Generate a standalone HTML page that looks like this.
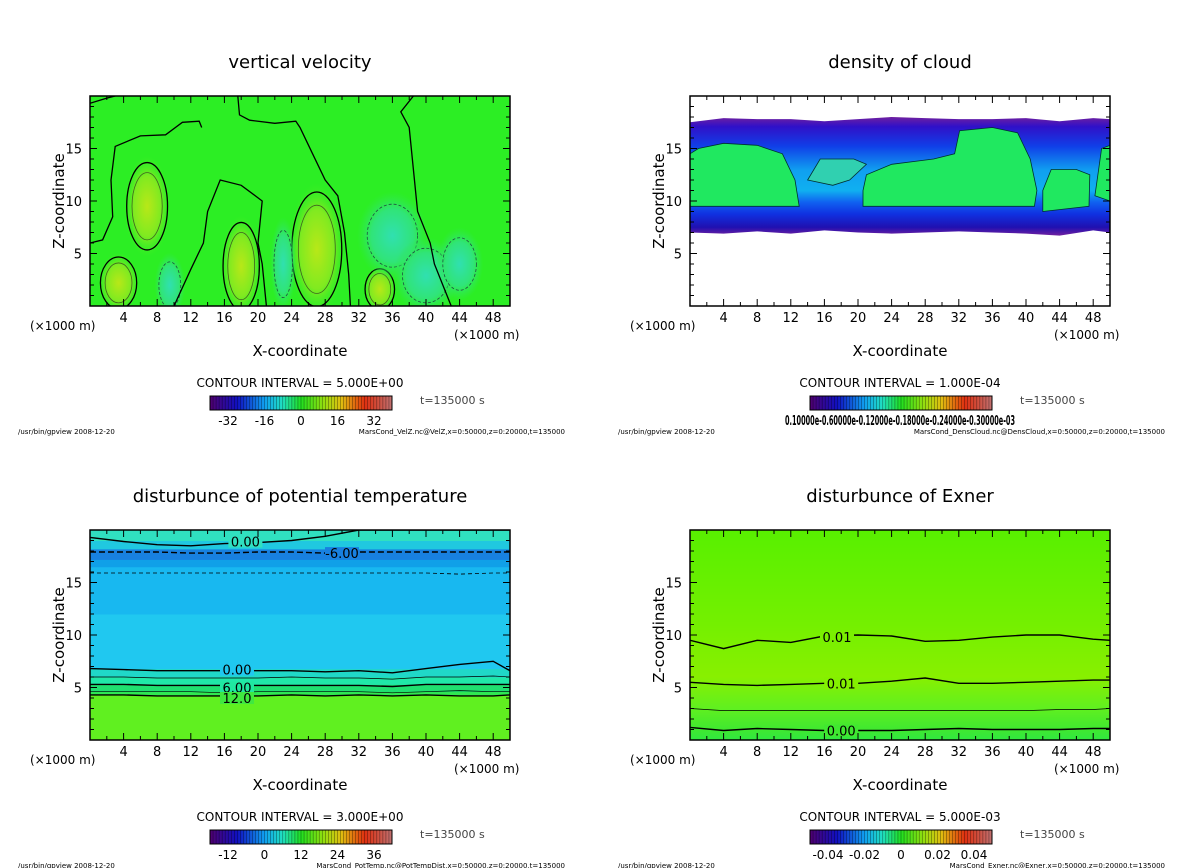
<!DOCTYPE html>
<html><head><meta charset="utf-8"><style>
html,body{margin:0;padding:0;background:#fff}
svg{display:block;font-family:"DejaVu Sans","Liberation Sans",sans-serif}
</style></head><body>
<svg id="fig" width="1200" height="868" viewBox="0 0 1200 868" xmlns="http://www.w3.org/2000/svg">
<defs>
<linearGradient id="cbar" x1="0" x2="1" y1="0" y2="0">
<stop offset="0" stop-color="#500070"/><stop offset="0.15" stop-color="#1010c0"/><stop offset="0.3" stop-color="#10a0f0"/><stop offset="0.4" stop-color="#20e0c0"/><stop offset="0.5" stop-color="#20e020"/><stop offset="0.62" stop-color="#90e010"/><stop offset="0.72" stop-color="#e0c010"/><stop offset="0.85" stop-color="#e03010"/><stop offset="1" stop-color="#c07070"/>
</linearGradient>
<linearGradient id="cloudband" x1="0" x2="0" y1="0" y2="1">
<stop offset="0" stop-color="#7020a0"/><stop offset="0.08" stop-color="#3010c8"/><stop offset="0.25" stop-color="#1040e8"/><stop offset="0.45" stop-color="#10a0f0"/><stop offset="0.62" stop-color="#10b0f0"/><stop offset="0.72" stop-color="#1060f0"/><stop offset="0.82" stop-color="#1030e0"/><stop offset="0.93" stop-color="#2010b0"/><stop offset="1" stop-color="#7020a0"/>
</linearGradient>
<linearGradient id="exner" x1="0" x2="0" y1="0" y2="1">
<stop offset="0" stop-color="#58f000"/><stop offset="0.45" stop-color="#74f000"/><stop offset="0.7" stop-color="#88f000"/><stop offset="0.85" stop-color="#60f020"/><stop offset="0.95" stop-color="#40e830"/><stop offset="1" stop-color="#30e840"/>
</linearGradient>
<radialGradient id="posblob"><stop offset="0" stop-color="#b8e818"/><stop offset="0.6" stop-color="#80ea20"/><stop offset="1" stop-color="#40ec28" stop-opacity="0"/></radialGradient>
<radialGradient id="negblob"><stop offset="0" stop-color="#30e0b0"/><stop offset="0.6" stop-color="#30e478"/><stop offset="1" stop-color="#30e850" stop-opacity="0"/></radialGradient>
</defs>
</svg>
<script>
// ---- data ----
const xTicks=[4,8,12,16,20,24,28,32,36,40,44,48];
const zTicks=[5,10,15];
const cbLabels1=["-32","-16","0","16","32"];
const cbLabels3=["-12","0","12","24","36"];
const cbLabels4=["-0.04","-0.02","0","0.02","0.04"];
const posBlobs=[[6.8,9.5,1.8,3.2],[3.4,2.2,1.6,1.9],[18,3.8,1.6,3.2],[27,5.4,2.2,4.2],[34.5,1.6,1.3,1.5]];
const negBlobs=[[9.5,2,1.3,2.2],[23,4,1.1,3.2],[36,6.7,3,3],[40,2.9,2.8,2.6],[44,4,2,2.5]];
const vvContour0=[[0,19.3],[2,19.8],[3,20]];
const vvContour1=[[17.6,20],[17.8,18.2],[19,17.7],[22,17.4],[24.5,17.6],[25,17],[26.5,14.5],[28,12],[29.5,10.5],[30.3,7],[30.8,3],[31,0]];
const vvContour2=[[0,6],[1.5,6.3],[2.7,8.5],[2.5,12],[3,15.2],[6,16.2],[9,16.3],[11,17.5],[13,17.6],[13.3,17]];
const vvContour3=[[10,0],[12,3.5],[13.5,6],[14,9],[15.5,12],[18,11.5],[20.5,10],[20,6],[20.5,4],[21,0]];
const vvContour4=[[38.5,20],[37,18.5],[38,17],[38.5,13],[39,9],[40.5,6],[41,4],[42,2],[43,0]];
const cloudGreen1=[[0,9.5],[13,9.5],[12.5,12],[11,14.5],[8,15.3],[4,15.5],[1,15],[0,14.5]];
const cloudGreen2=[[20.6,9.5],[41,9.5],[41.3,11],[40.5,14],[39,16.5],[36,17],[32.1,16.7],[31.5,14.5],[29,14],[24,13.5],[21,12.5],[20.6,11]];
const cloudGreen3=[[14,12],[15.5,14],[19.5,14],[21,13.5],[19,12],[17,11.5]];
const cloudGreen4=[[42,9],[47.5,9.5],[47.6,12.5],[46,13],[43,13],[42,11]];
const cloudGreen5=[[48.2,10.5],[50,10],[50,15.3],[49,15]];
const cloudBottom=[7.0,6.9,7.1,6.9,7.2,7.0,6.9,7.0,7.1,7.0,6.9,6.7,7.2,7.0];
const cloudTop=[17.5,17.9,17.8,17.8,17.6,17.8,18.0,17.9,17.8,17.8,17.9,17.6,17.9,17.8];
const lineX=[0,4,8,12,16,20,24,28,32,36,40,44,48,50];
const ptBands=[[0,4.3,"#60f020"],[4.3,4.6,"#30e850"],[4.6,5.3,"#20e070"],[5.3,6.0,"#20e8a8"],[6.0,6.8,"#20d8c8"],[6.8,12,"#20c8f0"],[12,16.5,"#18b8f0"],[16.5,17.2,"#10a0e8"],[17.2,18.2,"#1880e0"],[18.2,19,"#20c8e0"],[19,20,"#30e0c0"]];
const ptLine0=[6.8,6.7,6.6,6.6,6.6,6.6,6.6,6.5,6.6,6.4,6.8,7.2,7.5,6.6];
const ptLine6=[5.3,5.3,5.2,5.2,5.2,5.2,5.2,5.2,5.2,5.1,5.3,5.3,5.3,5.3];
const ptLine12=[4.3,4.3,4.2,4.2,4.2,4.2,4.3,4.2,4.3,4.2,4.3,4.2,4.2,4.3];
const ptLineA=[6.0,6.0,5.9,5.9,5.9,5.9,6.0,5.9,5.9,5.8,6.0,6.0,6.1,6.0];
const ptLineB=[4.6,4.6,4.6,4.6,4.5,4.6,4.6,4.6,4.6,4.5,4.6,4.7,4.6,4.6];
const ptTop0=[19.3,18.9,18.6,18.5,18.7,18.8,19.0,19.4,20,20,20,20,20,20];
const ptNeg6=[17.9,17.9,17.9,17.8,17.8,17.9,17.9,17.8,17.9,17.9,17.9,17.9,17.9,17.9];
const ptNeg16=[15.9,15.9,15.9,15.9,15.9,15.9,15.9,15.9,15.9,15.9,15.9,15.8,15.9,15.9];
const exLine1=[9.5,8.7,9.5,9.3,9.9,10.0,9.9,9.4,9.5,9.8,10.0,10.0,9.6,9.5];
const exLine2=[5.5,5.3,5.2,5.3,5.4,5.4,5.6,5.9,5.4,5.4,5.5,5.6,5.7,5.7];
const exLine3=[3.0,2.8,2.8,2.8,2.8,2.8,2.8,2.8,2.8,2.8,2.8,2.9,2.9,3.0];
const exLine4=[1.2,0.9,1.1,1.0,0.9,0.9,0.9,1.0,1.1,1.0,1.0,1.0,1.1,1.1];

const NS="http://www.w3.org/2000/svg";
const svg=document.getElementById('fig');
function mk(tag,attrs,parent,txt){const e=document.createElementNS(NS,tag);for(const k in attrs)e.setAttribute(k,attrs[k]);if(txt!==undefined)e.textContent=txt;(parent||svg).appendChild(e);return e;}
function axes(ox,oy){const sx=x=>ox+x*8.4;const sz=z=>oy+210-z*10.5;return{sx,sz};}
function poly(A,pts,parent,fill,stroke,dash,w){const d=pts.map((p,i)=>(i?'L':'M')+A.sx(p[0]).toFixed(1)+' '+A.sz(p[1]).toFixed(1)).join(' ')+(fill!=='none'?' Z':'');const e=mk('path',{d:d,fill:fill,stroke:stroke||'none','stroke-width':w||1.3,'stroke-dasharray':dash||'none'},parent);return e;}
function zline(A,zs,parent,w,dash){const pts=lineX.map((x,i)=>[x,zs[i]]);return poly(A,pts,parent,'none','#000',dash,w);}
function lineLabel(A,x,z,t,parent,bg){const tx=A.sx(x),ty=A.sz(z);mk('rect',{x:tx-17,y:ty-6,width:34,height:12,fill:bg},parent);const e=mk('text',{x:tx,y:ty+5,'font-size':13,'text-anchor':'middle',fill:'#000'},parent,t);}

function panel(ox,oy,title,name,interval,cbl,footL,footR,fill){
  const A=axes(ox,oy);
  const g=mk('g',{},svg);
  const t=mk('text',{x:ox+210,y:oy-28,'font-size':18,'text-anchor':'middle'},g,title);
  const plot=mk('g',{},g);
  const clipId='clip'+name;const cp=mk('clipPath',{id:clipId},g);mk('rect',{x:ox,y:oy,width:420,height:210},cp);plot.setAttribute('clip-path','url(#'+clipId+')');
  fill(A,plot);
  mk('rect',{x:ox,y:oy,width:420,height:210,fill:'none',stroke:'#000','stroke-width':1.5},g);
  for(let x=2;x<50;x+=2){const L=x%4===0?7:4;mk('line',{x1:A.sx(x),x2:A.sx(x),y1:oy+210,y2:oy+210-L,stroke:'#000'},g);mk('line',{x1:A.sx(x),x2:A.sx(x),y1:oy,y2:oy+L,stroke:'#000'},g);}
  for(let z=1;z<20;z++){const L=z%5===0?7:4;mk('line',{x1:ox,x2:ox+L,y1:A.sz(z),y2:A.sz(z),stroke:'#000'},g);mk('line',{x1:ox+420,x2:ox+420-L,y1:A.sz(z),y2:A.sz(z),stroke:'#000'},g);}
  xTicks.forEach(v=>{const e=mk('text',{x:A.sx(v),y:oy+226,'font-size':13,'text-anchor':'middle'},g,String(v));});
  zTicks.forEach(v=>{const e=mk('text',{x:ox-8,y:A.sz(v)+5,'font-size':13,'text-anchor':'end'},g,String(v));});
  let e=mk('text',{x:ox-60,y:oy+234,'font-size':12},g,'(×1000 m)');
  e=mk('text',{x:ox+364,y:oy+243,'font-size':12},g,'(×1000 m)');
  e=mk('text',{x:ox+210,y:oy+260,'font-size':15,'text-anchor':'middle'},g,'X-coordinate');
  e=mk('text',{x:0,y:0,'font-size':15,'text-anchor':'middle',transform:'translate('+(ox-26)+','+(oy+105)+') rotate(-90)'},g,'Z-coordinate');
  e=mk('text',{x:ox+210,y:oy+291,'font-size':12,'text-anchor':'middle'},g,'CONTOUR INTERVAL = '+interval);
  const cb=mk('g',{},g);
  const cx=ox+120,cy=oy+300,cw=182,ch=14;
  mk('rect',{x:cx,y:cy,width:cw,height:ch,fill:'url(#cbar)',stroke:'#000'},cb);
  for(let i=1;i<60;i++)mk('line',{x1:cx+i*cw/60,x2:cx+i*cw/60,y1:cy,y2:cy+ch,stroke:'#000','stroke-width':0.5,'stroke-opacity':0.6},cb);
  if(Array.isArray(cbl)){cbl.forEach((s,i)=>{const tt=mk('text',{x:cx+18+i*(cw-36)/(cbl.length-1),y:cy+29,'font-size':12,'text-anchor':'middle'},cb,s);});}
  else{const tt=mk('text',{x:cx+90,y:cy+29,'font-size':13,'text-anchor':'middle','font-weight':'bold',textLength:230,lengthAdjust:'spacingAndGlyphs'},cb,cbl);}
  e=mk('text',{x:ox+330,y:oy+308,'font-size':11,fill:'#444'},g,'t=135000 s');
  e=mk('text',{x:ox-72,y:oy+338,'font-size':7},g,'/usr/bin/gpview  2008-12-20');
  e=mk('text',{x:ox+475,y:oy+338,'font-size':7,'text-anchor':'end'},g,footR);
}

panel(90,96,'vertical velocity','vertical-velocity','5.000E+00',cbLabels1,'','MarsCond_VelZ.nc@VelZ,x=0:50000,z=0:20000,t=135000',(A,p)=>{
  mk('rect',{x:A.sx(0),y:A.sz(20),width:420,height:210,fill:'#2cee24'},p);
  posBlobs.forEach(b=>{const e=mk('ellipse',{cx:A.sx(b[0]),cy:A.sz(b[1]),rx:b[2]*8.4*1.5,ry:b[3]*10.5*1.5,fill:'url(#posblob)'},p);
    mk('ellipse',{cx:A.sx(b[0]),cy:A.sz(b[1]),rx:b[2]*8.4,ry:b[3]*10.5,fill:'none',stroke:'#406020','stroke-width':0.8},p);
    mk('ellipse',{cx:A.sx(b[0]),cy:A.sz(b[1]),rx:b[2]*8.4*1.35,ry:b[3]*10.5*1.3,fill:'none',stroke:'#000','stroke-width':1.3},p);});
  negBlobs.forEach(b=>{const e=mk('ellipse',{cx:A.sx(b[0]),cy:A.sz(b[1]),rx:b[2]*8.4*1.4,ry:b[3]*10.5*1.4,fill:'url(#negblob)'},p);
    mk('ellipse',{cx:A.sx(b[0]),cy:A.sz(b[1]),rx:b[2]*8.4,ry:b[3]*10.5,fill:'none',stroke:'#205040','stroke-width':0.8,'stroke-dasharray':'3 2'},p);});
  [vvContour0,vvContour1,vvContour2,vvContour3,vvContour4].forEach(c=>{const e=poly(A,c,p,'none','#000',null,1.3);});
});

panel(690,96,'density of cloud','density-of-cloud','1.000E-04','0.10000e-0.60000e-0.12000e-0.18000e-0.24000e-0.30000e-03','','MarsCond_DensCloud.nc@DensCloud,x=0:50000,z=0:20000,t=135000',(A,p)=>{
  mk('rect',{x:A.sx(0),y:A.sz(20),width:420,height:210,fill:'#fff'},p);
  const pts=lineX.map((x,i)=>[x,cloudTop[i]]).concat(lineX.slice().reverse().map((x,i)=>[x,cloudBottom[lineX.length-1-i]]));
  const e=poly(A,pts,p,'url(#cloudband)','none');
  [cloudGreen1,cloudGreen2,cloudGreen4,cloudGreen5].forEach(c=>{const q=poly(A,c,p,'#20e860','#003030',null,0.8);});
  const q=poly(A,cloudGreen3,p,'#30d0b0','#003030',null,0.8);
});

panel(90,530,'disturbunce of potential temperature','potential-temperature','3.000E+00',cbLabels3,'','MarsCond_PotTemp.nc@PotTempDist,x=0:50000,z=0:20000,t=135000',(A,p)=>{
  ptBands.forEach(b=>{const e=mk('rect',{x:A.sx(0),y:A.sz(b[1]),width:420,height:(b[1]-b[0])*10.5+0.5,fill:b[2]},p);});
  [ptLine0,ptLine6,ptLine12].forEach(z=>{const e=zline(A,z,p,1.4);});
  [ptLineA,ptLineB].forEach(z=>{const e=zline(A,z,p,0.7);});
  let e=zline(A,ptTop0,p,1.4);
  e=zline(A,ptNeg6,p,1.4,'6 3');
  e=zline(A,ptNeg16,p,0.8,'4 3');
  lineLabel(A,17.5,ptLine0[4]+0.1,'0.00',p,'#20c8f0');lineLabel(A,17.5,ptLine6[4]-0.2,'6.00',p,'#20e8a0');lineLabel(A,17.5,ptLine12[4]-0.2,'12.0',p,'#40e840');
  lineLabel(A,18.5,18.9,'0.00',p,'#30e0c0');lineLabel(A,30,17.8,'-6.00',p,'#1880e0');
});

panel(690,530,'disturbunce of Exner','exner','5.000E-03',cbLabels4,'','MarsCond_Exner.nc@Exner,x=0:50000,z=0:20000,t=135000',(A,p)=>{
  mk('rect',{x:A.sx(0),y:A.sz(20),width:420,height:210,fill:'url(#exner)'},p);
  [exLine1,exLine2,exLine4].forEach(z=>{const e=zline(A,z,p,1.4);});
  const e=zline(A,exLine3,p,0.8);
  lineLabel(A,17.5,exLine1[4]-0.1,'0.01',p,'#7af000');lineLabel(A,18,exLine2[4],'0.01',p,'#84f000');lineLabel(A,18,exLine4[4],'0.00',p,'#40e830');
});
</script>
</body></html>
